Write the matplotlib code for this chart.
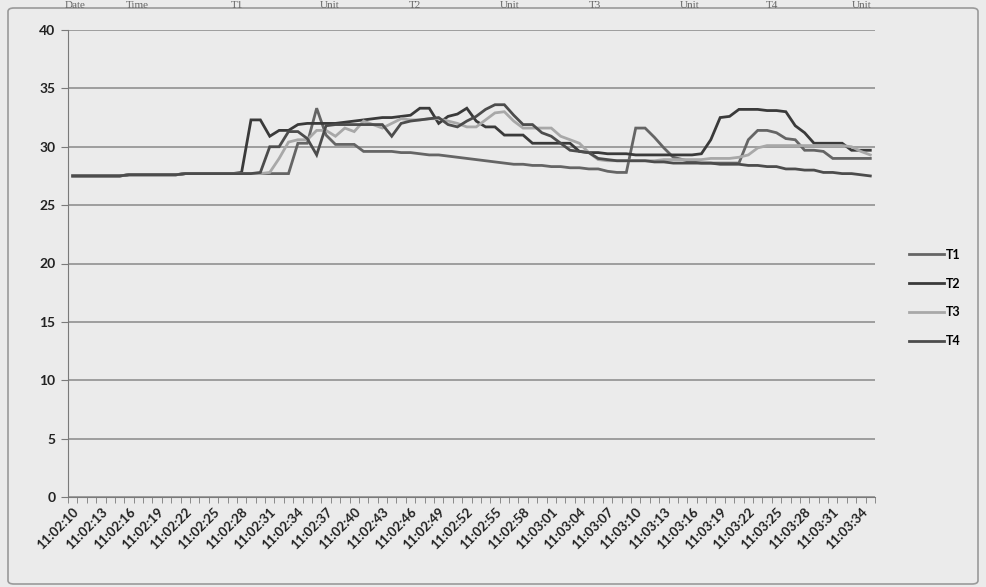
import matplotlib
matplotlib.use("Agg")
import matplotlib.pyplot as plt
from matplotlib.patches import FancyBboxPatch

# one reading per second, 11:02:10 .. 11:03:35
times = ["11:%02d:%02d" % divmod(130 + s, 60) for s in range(86)]

base = [27.5] * 6 + [27.6] * 6 + [27.7] * 6

t1 = base + [27.7, 27.7, 27.7, 27.7, 27.7, 27.7, 30.3, 30.3, 33.3, 31.0,
             30.2, 30.2, 30.2, 29.6, 29.6, 29.6, 29.6, 29.5, 29.5, 29.4,
             29.3, 29.3, 29.2, 29.1, 29.0, 28.9, 28.8, 28.7, 28.6, 28.5,
             28.5, 28.4, 28.4, 28.3, 28.3, 28.2, 28.2, 28.1, 28.1, 27.9,
             27.8, 27.8, 31.6, 31.6, 30.8, 29.9, 29.1, 28.9, 28.7, 28.6,
             28.6, 28.6, 28.6, 28.6, 30.6, 31.4, 31.4, 31.2, 30.7, 30.6,
             29.7, 29.7, 29.6, 29.0, 29.0, 29.0, 29.0, 29.0]

t2 = base + [29.6, 32.3, 32.3, 30.9, 31.4, 31.4, 31.9, 32.0, 32.0, 32.0,
             32.0, 32.1, 32.2, 32.3, 32.4, 32.5, 32.5, 32.6, 32.7, 33.3,
             33.3, 32.0, 32.6, 32.8, 33.3, 32.2, 31.7, 31.7, 31.0, 31.0,
             31.0, 30.3, 30.3, 30.3, 30.3, 30.3, 29.6, 29.5, 29.5, 29.4,
             29.4, 29.4, 29.3, 29.3, 29.3, 29.3, 29.3, 29.3, 29.3, 29.4,
             30.6, 32.5, 32.6, 33.2, 33.2, 33.2, 33.1, 33.1, 33.0, 31.8,
             31.2, 30.3, 30.3, 30.3, 30.3, 29.7, 29.7, 29.7]
t2[18] = 27.8

t3 = base + [27.7, 27.7, 27.7, 27.8, 29.0, 30.4, 30.6, 30.6, 31.4, 31.4,
             30.9, 31.6, 31.3, 32.2, 31.9, 31.6, 32.0, 32.4, 32.3, 32.3,
             32.4, 32.4, 32.2, 32.0, 31.7, 31.7, 32.3, 32.9, 33.0, 32.2,
             31.6, 31.6, 31.6, 31.6, 30.9, 30.6, 30.3, 29.5, 28.9, 28.8,
             28.8, 28.8, 28.8, 28.8, 28.8, 28.9, 28.9, 28.9, 28.9, 28.9,
             29.0, 29.0, 29.0, 29.1, 29.3, 29.9, 30.1, 30.1, 30.1, 30.1,
             30.1, 30.1, 30.1, 30.1, 30.1, 30.0, 29.6, 29.3]

t4 = base + [27.7, 27.7, 27.8, 30.0, 30.0, 31.3, 31.3, 30.7, 29.3, 31.8,
             31.9, 31.9, 31.9, 31.9, 31.9, 31.9, 30.9, 32.0, 32.2, 32.3,
             32.4, 32.5, 31.9, 31.7, 32.2, 32.6, 33.2, 33.6, 33.6, 32.7,
             31.9, 31.9, 31.2, 30.9, 30.3, 29.7, 29.6, 29.5, 29.0, 28.9,
             28.8, 28.8, 28.8, 28.8, 28.7, 28.7, 28.6, 28.6, 28.6, 28.6,
             28.6, 28.5, 28.5, 28.5, 28.4, 28.4, 28.3, 28.3, 28.1, 28.1,
             28.0, 28.0, 27.8, 27.8, 27.7, 27.7, 27.6, 27.5]

series = {"T1": t1, "T2": t2, "T3": t3, "T4": t4}
colors = {"T1": "#656565", "T2": "#3a3a3a", "T3": "#a8a8a8", "T4": "#4c4c4c"}

header = ["Date", "Time", "T1", "Unit", "T2", "Unit", "T3", "Unit", "T4", "Unit"]
header_x = [75, 137, 237, 330, 415, 510, 595, 690, 772, 862]

bg = "#ebebeb"
fig = plt.figure(figsize=(9.86, 5.87), dpi=100, facecolor=bg)

# chart area frame, kept behind the axes
frame = FancyBboxPatch((8 / 986, 3 / 587), 970 / 986, 576 / 587,
                       boxstyle="round,pad=0,rounding_size=0.006",
                       transform=fig.transFigure, facecolor=bg,
                       edgecolor="#9a9a9a", linewidth=1.2, zorder=-5)
fig.patches.append(frame)

# worksheet header peeking above the chart
for txt, xp in zip(header, header_x):
    fig.text(xp / 986, 1 - 1 / 587, txt, family="Liberation Serif",
             fontsize=8, color="#666666", ha="center", va="top")

ax = fig.add_axes([68 / 986, 1 - 497 / 587, 807 / 986, 467 / 587])
ax.set_zorder(2)
ax.set_facecolor(bg)

x = list(range(len(times)))
for name, vals in series.items():
    ax.plot(x, vals, color=colors[name], linewidth=2.0, label=name,
            solid_joinstyle="miter")

ax.set_ylim(0, 40)
ax.set_yticks(range(0, 41, 5))
ax.set_xlim(-0.5, len(times) - 0.5)
ax.grid(axis="y", color="#888888", linewidth=1.1)
ax.set_axisbelow(True)

for side in ["top", "right"]:
    ax.spines[side].set_visible(False)
ax.spines["left"].set_color("#7a7a7a")
ax.spines["bottom"].set_color("#7a7a7a")

ax.set_xticks(x[::3])
ax.set_xticklabels(times[::3], rotation=45, ha="right",
                   rotation_mode="anchor", fontsize=9.5, family="Lato",
                   fontweight="bold", color="#222222")
ax.set_xticks([i - 0.5 for i in range(len(times) + 1)], minor=True)
ax.tick_params(axis="x", which="major", length=0, pad=6)
ax.tick_params(axis="x", which="minor", length=4, color="#7a7a7a",
               direction="out")
ax.tick_params(axis="y", length=5, color="#7a7a7a", pad=4)
for lbl in ax.get_yticklabels():
    lbl.set_family("Lato")
    lbl.set_fontsize(10)
    lbl.set_fontweight("bold")
    lbl.set_color("#222222")

ax.legend(loc="center left", bbox_to_anchor=(1.028, 0.426), frameon=False,
          handlelength=2.8, handletextpad=0.15, labelspacing=1.35,
          prop={"family": "Lato", "size": 9, "weight": "bold"})

plt.savefig("out.png", dpi=100, facecolor=bg)
